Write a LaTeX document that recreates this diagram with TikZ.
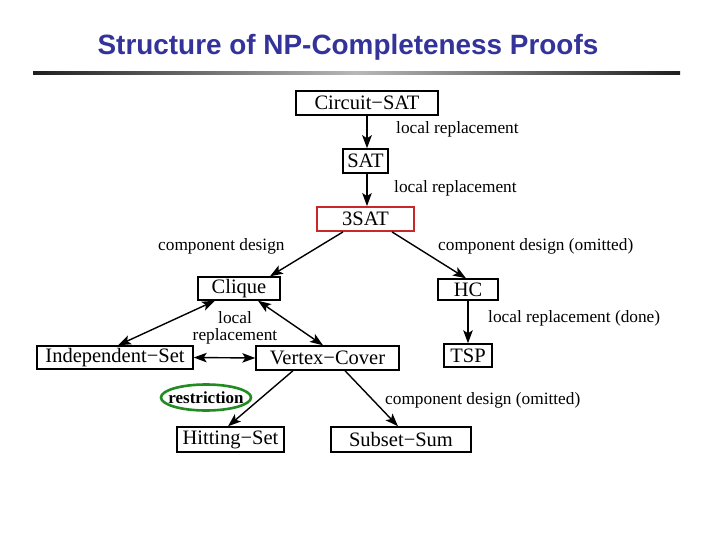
\documentclass[tikz,border=0pt]{standalone}
\usepackage{fontspec}
\setmainfont{Liberation Serif}
\newfontfamily\titlefont{Liberation Sans}
\usetikzlibrary{arrows.meta,calc,shapes.geometric}
\definecolor{titleblue}{HTML}{333399}
\definecolor{boxred}{HTML}{C82828}
\definecolor{ellgreen}{HTML}{228B22}
\begin{document}
\begin{tikzpicture}[x=1pt,y=-1pt,
  prob/.style={draw,line width=1.4pt,inner sep=0pt,font=\fontsize{20.5}{20.5}\selectfont,anchor=center},
  lbl/.style={font=\fontsize{17.3}{18}\selectfont,inner sep=0pt,anchor=west},
  tip/.tip={Stealth[length=13pt,width=9.5pt,inset=3pt]},
  conn/.style={line width=1.4pt,-tip},
  dconn/.style={line width=1.4pt,tip-tip}]
\useasboundingbox (0,0) rectangle (720,540);
\fill[white] (0,0) rectangle (720,540);
% title
\node[font=\titlefont\bfseries\fontsize{27.9}{30}\selectfont,text=titleblue,inner sep=0pt] (title) at (348,47) {Structure of NP-Completeness Proofs};
\shade[left color=black!88,right color=black!88,middle color=black!28] (33,71.5) rectangle (680,74.5);
% boxes
\node[prob,line width=2pt,minimum width=142pt,minimum height=24pt] (cs) at (367,103) {Circuit−SAT};
\node[prob,minimum width=45pt,minimum height=24pt] (sat) at (365.5,161) {SAT};
\node[prob,draw=boxred,line width=1.8pt,minimum width=97pt,minimum height=24pt] (s3) at (365.5,219) {3SAT};
\node[prob,minimum width=82pt,minimum height=23pt] (clique) at (239,288.5) {Clique};
\node[prob,minimum width=60pt,minimum height=21pt] (hc) at (468,289.5) {HC};
\node[prob,minimum width=48pt,minimum height=23pt] (tsp) at (468,355.5) {TSP};
\node[prob,minimum width=156pt,minimum height=23pt] (is) at (115,357.5) {Independent−Set};
\node[prob,minimum width=143pt,minimum height=24pt] (vc) at (327.5,358) {Vertex−Cover};
\node[prob,minimum width=107pt,minimum height=25pt] (hs) at (230.5,439.5) {Hitting−Set};
\node[prob,minimum width=140pt,minimum height=25pt] (ss) at (401,439.5) {Subset−Sum};
\node[inner sep=0pt,font=\bfseries\fontsize{17}{17}\selectfont] (restr) at (206,397.5) {restriction};
\draw[ellgreen,line width=2.6pt] (restr.center) ellipse (45 and 13);
% labels
\node[lbl] (l1) at (396,129) {local replacement};
\node[lbl] (l2) at (394,188) {local replacement};
\node[lbl] (l3) at (158,246) {component design};
\node[lbl] (l4) at (438,246) {component design (omitted)};
\node[lbl] (l5) at (488,318) {local replacement (done)};
\node[lbl,anchor=center] (l6) at (235,318) {local};
\node[lbl,anchor=center] (l7) at (235,336) {replacement};
\node[lbl] (l8) at (385,400) {component design (omitted)};
% connectors
\draw[conn,line width=2.2pt] (cs.south) -- (cs.south |- sat.north);
\draw[conn] ([xshift=1.5pt]sat.south) -- ([xshift=1.5pt]s3.north);
\draw[conn] ([xshift=-22.5pt]s3.south) -- ([xshift=31pt]clique.north);
\draw[conn] ([xshift=26.5pt]s3.south) -- ([xshift=-2pt]hc.north);
\draw[conn] (hc.south) -- (tsp.north);
\draw[dconn] ([xshift=-24pt]clique.south) -- ([xshift=3pt]is.north);
\draw[dconn] ([xshift=19pt]clique.south) -- ([xshift=-4.5pt]vc.north);
\draw[dconn] (is.east) -- (vc.west);
\draw[conn] ([xshift=-34.5pt]vc.south) -- ([xshift=-2.5pt]hs.north);
\draw[conn] ([xshift=17.5pt]vc.south) -- ([xshift=-3pt]ss.north);
\end{tikzpicture}
\end{document}
